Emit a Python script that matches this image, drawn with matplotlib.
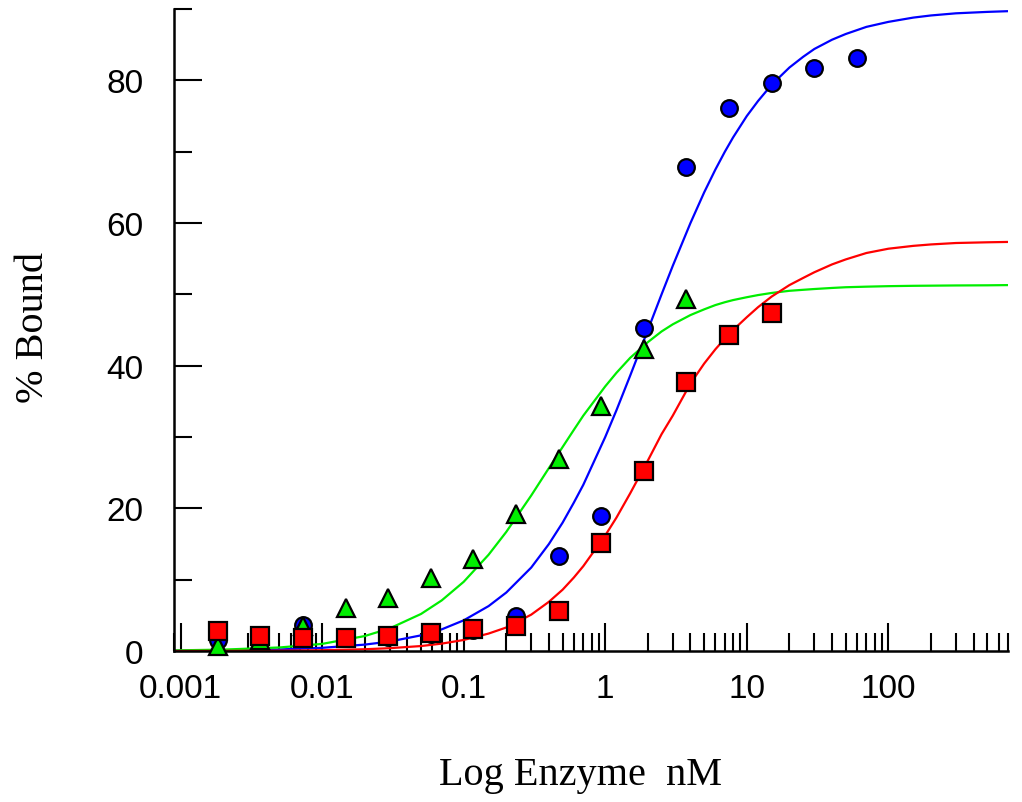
import matplotlib

matplotlib.use("Agg")

import matplotlib.pyplot as plt
import numpy as np
from matplotlib.ticker import FixedLocator, LogLocator, NullFormatter

# enzyme concentrations (nM), two-fold dilution series
conc = [60, 30, 15, 7.5, 3.75, 1.875, 0.9375, 0.46875, 0.234375, 0.1171875,
        0.05859375, 0.029296875, 0.0146484375, 0.00732421875, 0.003662109375,
        0.0018310546875]

# % bound (some blue/green points sit under the squares)
blue_pts = [83.2, 81.8, 79.6, 76.1, 67.8, 45.3, 18.9, 13.3, 4.9, 3.0,
            2.4, 1.9, 1.8, 3.6, 1.8, 1.5]
green_pts = [None, None, None, None, 49.4, 42.4, 34.4, 26.9, 19.2, 12.9,
             10.2, 7.5, 6.1, 3.5, 1.6, 0.7]
red_pts = [None, None, 47.4, 44.3, 37.7, 25.3, 15.1, 5.6, 3.5, 3.1,
           2.5, 2.1, 1.8, 1.8, 2.1, 2.8]

# fitted curves
curve_x = [0.0009, 0.002, 0.005, 0.01, 0.02, 0.03, 0.05, 0.07, 0.1, 0.15,
           0.2, 0.3, 0.4, 0.5, 0.6, 0.7, 1, 1.2, 1.5, 2, 2.5, 3, 4, 5, 6, 7,
           8, 10, 12, 15, 20, 25, 30, 40, 50, 70, 100, 150, 200, 300, 500,
           700]
blue_fit = [0.04, 0.09, 0.22, 0.45, 0.9, 1.33, 2.2, 3.04, 4.3, 6.3, 8.2,
            11.7, 15.0, 18.0, 20.8, 23.3, 30.0, 33.75, 38.6, 45.0, 50.0,
            54.0, 60.0, 64.3, 67.5, 70.0, 72.0, 75.0, 77.1, 79.4, 81.8,
            83.3, 84.4, 85.7, 86.5, 87.5, 88.2, 88.8, 89.1, 89.4, 89.6, 89.7]
green_fit = [0.09, 0.2, 0.5, 1.0, 2.1, 3.17, 5.2, 7.1, 9.7, 13.5, 16.7,
             21.8, 25.65, 28.6, 31.0, 33.0, 37.1, 39.0, 41.1, 43.3, 44.8,
             45.8, 47.1, 47.9, 48.5, 48.9, 49.2, 49.6, 49.9, 50.2, 50.5,
             50.64, 50.75, 50.9, 51.0, 51.08, 51.15, 51.2, 51.22, 51.25,
             51.27, 51.3]
red_fit = [0.01, 0.02, 0.05, 0.11, 0.25, 0.4, 0.7, 1.04, 1.55, 2.45, 3.3,
           5.1, 6.9, 8.6, 10.3, 11.9, 16.2, 18.7, 22.1, 26.7, 30.4, 33.0,
           37.5, 40.3, 42.3, 43.8, 45.0, 46.8, 48.2, 49.7, 51.3, 52.3, 53.1,
           54.2, 54.9, 55.8, 56.4, 56.8, 57.0, 57.2, 57.3, 57.35]

xtick_vals = [0.001, 0.01, 0.1, 1, 10, 100]
xtick_labels = ["0.001", "0.01", "0.1", "1", "10", "100"]
ytick_vals = [0, 20, 40, 60, 80]

BLUE = "#0000ff"
GREEN = "#00ee00"
RED = "#ff0000"

fig = plt.figure(figsize=(10.22, 8.03), dpi=100)
ax = fig.add_axes([0.1703, 0.188, 0.816, 0.7995])

ax.plot(curve_x, blue_fit, color=BLUE, lw=1.6, zorder=2)
ax.plot(curve_x, green_fit, color=GREEN, lw=1.6, zorder=2)
ax.plot(curve_x, red_fit, color=RED, lw=1.6, zorder=2)


def pairs(vals):
    xs = [c for c, v in zip(conc, vals) if v is not None]
    ys = [v for v in vals if v is not None]
    return xs, ys


bx, by = pairs(blue_pts)
gx, gy = pairs(green_pts)
rx, ry = pairs(red_pts)
ax.plot(bx, by, "o", ms=12, mfc=BLUE, mec="black", mew=1.6, ls="none",
        zorder=3, clip_on=False)
ax.plot(gx, gy, "^", ms=13, mfc=GREEN, mec="black", mew=1.6, ls="none",
        zorder=4, clip_on=False)
ax.plot(rx, ry, "s", ms=12.5, mfc=RED, mec="black", mew=1.6, ls="none",
        zorder=5, clip_on=False)

ax.set_xscale("log")
ax.set_xlim(0.0009, 700)
ax.set_ylim(0, 90)

ax.spines["top"].set_visible(False)
ax.spines["right"].set_visible(False)
for side in ("left", "bottom"):
    ax.spines[side].set_linewidth(1.8)

ax.xaxis.set_major_locator(FixedLocator(xtick_vals))
ax.set_xticklabels(xtick_labels)
ax.xaxis.set_minor_locator(LogLocator(base=10, subs=np.arange(2, 10)))
ax.xaxis.set_minor_formatter(NullFormatter())
ax.set_yticks(ytick_vals)
ax.set_yticks([10, 30, 50, 70, 90], minor=True)

ax.tick_params(axis="both", which="major", direction="in", length=20,
               width=1.5, labelsize=24)
ax.tick_params(axis="both", which="minor", direction="in", length=13,
               width=1.5)
ax.tick_params(axis="x", which="major", pad=16)
ax.tick_params(axis="y", which="major", pad=22)
for lab in ax.get_xticklabels() + ax.get_yticklabels():
    lab.set_family("Liberation Sans")

ax.set_xlabel("Log Enzyme  nM", family="Liberation Serif", fontsize=29)
ax.set_ylabel("% Bound", family="Liberation Serif", fontsize=29)
ax.xaxis.set_label_coords(0.487, -0.163)
ax.yaxis.set_label_coords(-0.146, 0.505)

fig.savefig("out.png", dpi=100)
